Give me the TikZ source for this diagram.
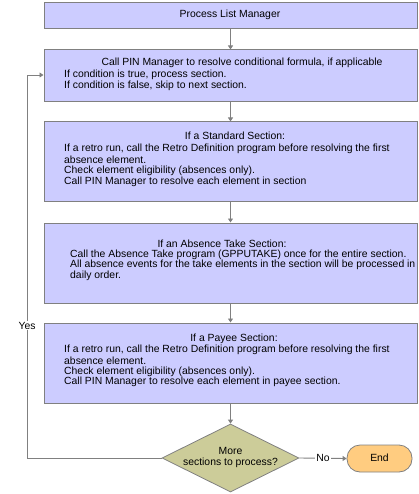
\documentclass[tikz,border=0pt]{standalone}
\usepackage{fontspec}
\setmainfont{Liberation Sans}
\usetikzlibrary{shapes.geometric,arrows.meta}
\definecolor{boxfill}{HTML}{CCCCFF}
\definecolor{linegray}{HTML}{808080}
\definecolor{decfill}{HTML}{CCCC99}
\definecolor{endfill}{HTML}{FFCC80}
\tikzset{
  every node/.style={font=\fontsize{10.4}{11}\selectfont, inner sep=0pt},
  procbox/.style={draw=linegray, line width=1pt, fill=boxfill},
  conn/.style={draw=linegray, line width=0.9pt, -{Triangle[length=4pt,width=5pt]}},
  plainconn/.style={draw=linegray, line width=0.9pt},
  txt/.style={anchor=west},
  lbl/.style={fill=white, inner sep=1pt},
}
\begin{document}
\begin{tikzpicture}[x=1pt,y=-1pt]
\useasboundingbox (0,0) rectangle (419,494);
% boxes
\node[procbox, minimum width=373pt, minimum height=26pt] (b1) at (230.5,16) {};
\node[procbox, minimum width=373pt, minimum height=52pt] (b2) at (230.5,76) {};
\node[procbox, minimum width=373pt, minimum height=79pt] (b3) at (230.5,161.5) {};
\node[procbox, minimum width=373pt, minimum height=80pt] (b4) at (230.5,263) {};
\node[procbox, minimum width=373pt, minimum height=80pt] (b5) at (230.5,363) {};
\node[diamond, draw=linegray, line width=0.8pt, fill=decfill, minimum width=137pt, minimum height=68pt, aspect=2] (d) at (230.5,458) {};
\node[draw=linegray, line width=0.8pt, fill=endfill, rounded corners=13pt, minimum width=65pt, minimum height=27pt] (e) at (379.5,458.5) {};
% texts
\node (t1) at (230,15) {Process List Manager};
\node (t2a) at (242,63) {Call PIN Manager to resolve conditional formula, if applicable};
\node[txt] (t2b) at (64,75) {If condition is true, process section.};
\node[txt] (t2c) at (64,86) {If condition is false, skip to next section.};
\node (t3a) at (235,136) {If a Standard Section:};
\node[txt] (t3b) at (64,149) {If a retro run, call the Retro Definition program before resolving the first};
\node[txt] (t3c) at (64,160) {absence element.};
\node[txt] (t3d) at (64,171) {Check element eligibility (absences only).};
\node[txt] (t3e) at (64,182) {Call PIN Manager to resolve each element in section};
\node (t4a) at (222,244) {If an Absence Take Section:};
\node[txt] (t4b) at (70,254.5) {Call the Absence Take program (GPPUTAKE) once for the entire section.};
\node[txt] (t4c) at (70,265) {All absence events for the take elements in the section will be processed in};
\node[txt] (t4d) at (70,275.5) {daily order.};
\node (t5a) at (234,339) {If a Payee Section:};
\node[txt] (t5b) at (64,350) {If a retro run, call the Retro Definition program before resolving the first};
\node[txt] (t5c) at (64,361) {absence element.};
\node[txt] (t5d) at (64,371.5) {Check element eligibility (absences only).};
\node[txt] (t5e) at (64,382) {Call PIN Manager to resolve each element in payee section.};
\node[align=center] (td) at (230.5,457.5) {More\\sections to process?};
\node (te) at (379.5,458) {End};
% connectors
\draw[conn] (b1.south) -- (b2.north);
\draw[conn] (b2.south) -- (b3.north);
\draw[conn] (b3.south) -- (b4.north);
\draw[conn] (b4.south) -- (b5.north);
\draw[conn] (b5.south) -- (d.north);
\draw[conn] (d.east) -- node[lbl] (no) {No} (e.west);
\coordinate (lb) at (27,458);
\coordinate (lt) at (27,75);
\draw[plainconn] (d.west) -- (lb) -- node[lbl, pos=0.345] (yes) {Yes} (lt);
\draw[conn] (lt) -- (lt -| b2.west);
\end{tikzpicture}
\end{document}
